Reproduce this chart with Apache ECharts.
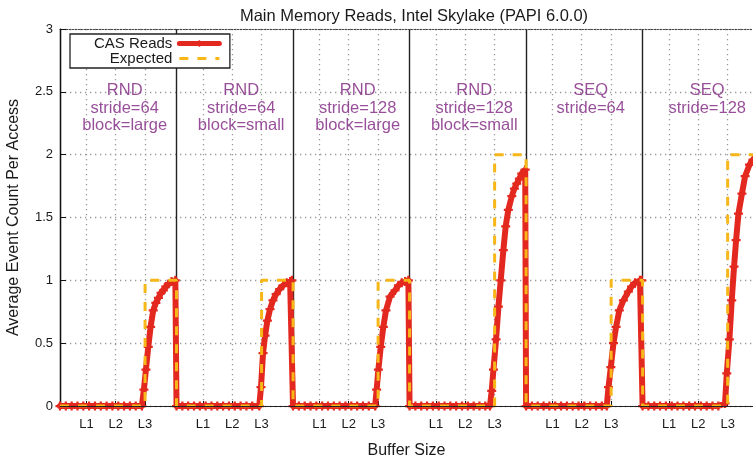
<!DOCTYPE html>
<html>
<head>
<meta charset="utf-8">
<script src="https://cdn.jsdelivr.net/npm/echarts@6/dist/echarts.min.js"></script>
<style>
  html, body { margin: 0; padding: 0; background: #fff; }
  #chart { width: 753px; height: 459px; }
</style>
</head>
<body>
<div id="chart"></div>
<script>
const seriesNames = ['CAS Reads', 'Expected'];
const panelNotes = [
  'RND\nstride=64\nblock=large',
  'RND\nstride=64\nblock=small',
  'RND\nstride=128\nblock=large',
  'RND\nstride=128\nblock=small',
  'SEQ\nstride=64',
  'SEQ\nstride=128'
];
const cacheLevels = ['L1', 'L2', 'L3'];
const cacheLevelX = [0.91, 1.91, 2.92]; // inside one panel, panel is 4 units wide

// buffer sizes below L3: reads stay at zero
const flatX = [0, 0.2, 0.4, 0.6, 0.8, 1.0, 1.2, 1.4, 1.6, 1.8, 2.0, 2.2, 2.4, 2.6];
// rise after L3, [x inside panel, count per access]
const casRise = [
  [[2.81, 0], [2.88, 0.13], [2.95, 0.29], [3.03, 0.47], [3.11, 0.63], [3.20, 0.76], [3.29, 0.82],
   [3.38, 0.86], [3.47, 0.90], [3.55, 0.92], [3.63, 0.95], [3.72, 0.97], [3.83, 0.99], [3.96, 1.0]],
  [[2.84, 0], [2.90, 0.15], [2.97, 0.42], [3.04, 0.56], [3.12, 0.68], [3.21, 0.77], [3.31, 0.84],
   [3.42, 0.89], [3.54, 0.93], [3.66, 0.96], [3.78, 0.98], [3.90, 0.99], [3.96, 1.0]],
  [[2.82, 0], [2.87, 0.13], [2.93, 0.29], [3.01, 0.47], [3.10, 0.63], [3.19, 0.76], [3.33, 0.87],
   [3.50, 0.92], [3.62, 0.96], [3.73, 0.98], [3.85, 0.99], [3.96, 1.0]],
  [[2.76, 0], [2.82, 0.12], [2.88, 0.29], [2.97, 0.53], [3.05, 0.79], [3.13, 1.0], [3.22, 1.24],
   [3.30, 1.43], [3.39, 1.56], [3.51, 1.67], [3.60, 1.73], [3.68, 1.77], [3.77, 1.81], [3.85, 1.85], [3.97, 1.88]],
  [[2.77, 0], [2.83, 0.15], [2.91, 0.31], [3.00, 0.50], [3.09, 0.63], [3.20, 0.76], [3.34, 0.84],
   [3.51, 0.91], [3.62, 0.95], [3.74, 0.98], [3.91, 1.0], [3.97, 1.0]],
  [[2.83, 0.02], [2.89, 0.26], [2.98, 0.53], [3.06, 0.84], [3.14, 1.11], [3.21, 1.32], [3.29, 1.53],
   [3.41, 1.69], [3.52, 1.83], [3.67, 1.92], [3.79, 1.96], [3.90, 1.99]]
];
const expectedLevel = [1, 1, 1, 2, 1, 2];

const panelWidth = 4;
const xMax = 23.79;
const font = 'Liberation Sans, Arial, sans-serif';
const red = '#e3291f';
const gold = '#f7b718';
const purple = '#7e237f';
const ink = '#1a1a1a';
const plus = 'path://M3,0H5V3H8V5H5V8H3V5H0V3H3Z';

const casData = [];
casRise.forEach((rise, p) => {
  const off = p * panelWidth;
  flatX.forEach(x => casData.push([off + x, 0]));
  rise.forEach(([x, y]) => casData.push([off + x, y]));
});

const expData = [];
expectedLevel.forEach((e, p) => {
  const off = p * panelWidth;
  const l3 = off + cacheLevelX[2];
  expData.push([off, 0], [l3, 0], [l3, e], [off + panelWidth, e], [off + panelWidth, 0]);
});

const levelTicks = [];
const levelName = {};
panelNotes.forEach((_, p) => {
  cacheLevelX.forEach((x, i) => {
    const v = +(p * panelWidth + x).toFixed(2);
    levelTicks.push(v);
    levelName[v] = cacheLevels[i];
  });
});

const noteData = panelNotes.map((_, p) => [p * panelWidth + 2.22, 2.5]);

const chart = echarts.init(document.getElementById('chart'));
chart.setOption({
  animation: false,
  textStyle: { fontFamily: font },
  title: {
    text: 'Main Memory Reads, Intel Skylake (PAPI 6.0.0)',
    left: 409, top: 3, textAlign: 'center',
    textStyle: { fontSize: 16.5, fontWeight: 'normal', color: ink, fontFamily: font }
  },
  legend: {
    data: [
      { name: seriesNames[0], lineStyle: { width: 5 } },
      { name: seriesNames[1], lineStyle: { width: 3 }, itemStyle: { opacity: 0 } }
    ],
    orient: 'vertical', align: 'right',
    left: 70, top: 34, itemWidth: 40, itemHeight: 8, itemGap: 0,
    padding: [2, 8, 2, 24],
    backgroundColor: '#fff', borderColor: '#222', borderWidth: 1.3, borderRadius: 0,
    textStyle: { fontSize: 15, lineHeight: 13, color: ink, fontFamily: font, padding: [0, 2, 0, 0] }
  },
  grid: { left: 60, right: 0, top: 29, bottom: 53, outerBoundsMode: 'none' },
  xAxis: [
    {
      type: 'value', min: 0, max: xMax, position: 'bottom',
      name: 'Buffer Size', nameLocation: 'middle', nameGap: 37,
      nameTextStyle: { fontSize: 16, color: ink, fontFamily: font },
      axisLine: { lineStyle: { color: '#111', width: 1.2 } },
      axisTick: { inside: true, length: 5, customValues: levelTicks, lineStyle: { color: '#111' } },
      axisLabel: {
        customValues: levelTicks, fontSize: 13, color: ink, margin: 12,
        formatter: v => levelName[+v.toFixed(2)] || ''
      },
      splitLine: { show: true, lineStyle: { color: '#999', width: 1.3, type: [1.3, 3.7] } }
    },
    {
      type: 'value', min: 0, max: xMax, interval: 4, position: 'bottom',
      axisLine: { show: false }, axisTick: { show: false }, axisLabel: { show: false },
      splitLine: { show: true, showMaxLine: false, lineStyle: { color: '#222', width: 1.4 } }
    },
    {
      type: 'value', min: 0, max: xMax, position: 'top',
      axisLine: { show: true, lineStyle: { color: '#444', width: 1.2, type: [1.5, 1.5] } },
      axisTick: { show: false }, axisLabel: { show: false }, splitLine: { show: false }
    }
  ],
  yAxis: {
    type: 'value', min: 0, max: 3, interval: 0.5,
    name: 'Average Event Count Per Access', nameLocation: 'middle', nameGap: 38,
    nameTextStyle: { fontSize: 16, color: ink, fontFamily: font },
    axisLine: { show: true, lineStyle: { color: '#111', width: 1.2 } },
    axisTick: { inside: true, length: 6, lineStyle: { color: '#111' } },
    axisLabel: { fontSize: 13, color: ink, margin: 7 },
    splitLine: { show: true, lineStyle: { color: '#999', width: 1.3, type: [1.3, 3.7] } }
  },
  series: [
    {
      name: seriesNames[0], type: 'line', data: casData, z: 2,
      symbol: plus, symbolSize: 9, showSymbol: true,
      itemStyle: { color: red },
      lineStyle: { color: red, width: 6, cap: 'round', join: 'round' }
    },
    {
      name: seriesNames[1], type: 'line', data: expData, z: 3,
      symbol: 'none',
      itemStyle: { color: gold },
      lineStyle: { color: gold, width: 3, type: [9, 9] },
      markLine: {
        silent: true, symbol: ['none', 'none'], label: { show: false },
        lineStyle: { color: '#222', width: 1, type: 'solid' },
        data: [{ yAxis: 0 }]
      }
    },
    {
      type: 'scatter', data: noteData, symbolSize: 0, silent: true, z: 4,
      label: {
        show: true, position: 'inside', verticalAlign: 'top', align: 'center', offset: [0, -10],
        formatter: p => panelNotes[p.dataIndex],
        color: purple, fontSize: 16.5, lineHeight: 17.5, fontFamily: font
      }
    }
  ]
});
</script>
</body>
</html>
